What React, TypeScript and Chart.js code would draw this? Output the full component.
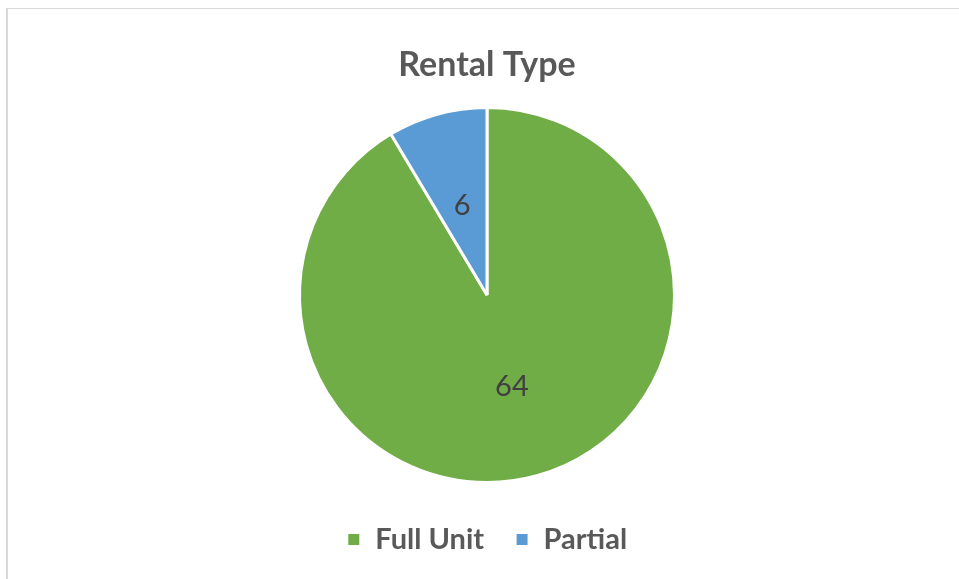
import React, { useEffect, useRef } from "react";
import { Chart, registerables } from "chart.js";

Chart.register(...registerables);

const categories = ["Full Unit", "Partial"];
const values = [64, 6];
const colors = ["#70AD47", "#5B9BD5"];
const titleText = "Rental Type";

const labelPlugin = {
  id: "sliceLabels",
  afterDatasetsDraw(chart: any) {
    const ctx = chart.ctx;
    const meta = chart.getDatasetMeta(0);
    ctx.save();
    ctx.font = "29px Lato";
    ctx.fillStyle = "#404040";
    ctx.textAlign = "center";
    ctx.textBaseline = "middle";
    meta.data.forEach((arc: any, i: number) => {
      const p = arc.getCenterPoint();
      ctx.fillText(String(values[i]), p.x, p.y + 1);
    });
    ctx.restore();
  },
};

export default function App() {
  const ref = useRef<HTMLCanvasElement>(null);
  useEffect(() => {
    if (!ref.current) return;
    const chart = new Chart(ref.current, {
      type: "pie",
      data: {
        labels: categories,
        datasets: [
          {
            data: values,
            backgroundColor: colors,
            borderColor: "#FFFFFF",
            borderWidth: 3,
            radius: 187.5,
          },
        ],
      },
      options: {
        responsive: false,
        animation: false,
        layout: { padding: { left: 15, right: 0, top: 0, bottom: 15 } },
        plugins: {
          title: {
            display: true,
            text: titleText,
            color: "#595959",
            font: { family: "Lato", size: 34, weight: "bold" },
            padding: { top: 44.5, bottom: 10.7 },
          },
          legend: {
            position: "bottom",
            labels: {
              color: "#595959",
              font: { family: "Lato", size: 29, weight: "bold" },
              boxWidth: 14,
              boxHeight: 14,
              padding: 31,
            },
          },
          tooltip: { enabled: false },
        },
      },
      plugins: [labelPlugin],
    });
    return () => chart.destroy();
  }, []);
  return (
    <div style={{ position: "fixed", left: 0, top: 0, width: 959, height: 579, background: "#fff" }}>
      <div
        style={{
          position: "absolute",
          left: 6,
          top: 8,
          width: 960,
          height: 580,
          borderTop: "1px solid #D9D9D9",
          borderLeft: "2px solid #D9D9D9",
          boxSizing: "border-box",
        }}
      />
      <canvas ref={ref} width={959} height={579} style={{ position: "absolute", left: 0, top: 0 }} />
    </div>
  );
}
